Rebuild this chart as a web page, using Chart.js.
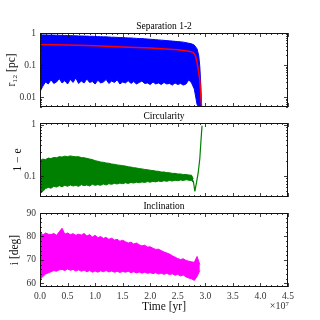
<!DOCTYPE html>
<html>
<head>
<meta charset="utf-8">
<script src="https://cdn.jsdelivr.net/npm/chart.js@4.4.1/dist/chart.umd.min.js"></script>
<style>
body { margin: 0; background: #fff; }
#wrap { position: relative; width: 320px; height: 320px; overflow: hidden; }
canvas { position: absolute; left: 0; }
</style>
</head>
<body>
<div id="wrap">
<canvas id="sep" width="320" height="120" style="top:0px"></canvas>
<canvas id="circ" width="320" height="110" style="top:100px"></canvas>
<canvas id="inc" width="320" height="130" style="top:190px"></canvas>
</div>
<script>
// time in units of 1e7 yr
const bandTime = [0,0.05,0.1,0.15,0.2,0.25,0.3,0.35,0.4,0.45,0.5,0.55,0.6,0.65,0.7,0.75,0.8,0.85,0.9,0.95,1.0,
  1.05,1.1,1.15,1.2,1.25,1.3,1.35,1.4,1.45,1.5,1.55,1.6,1.65,1.7,1.75,1.8,1.85,1.9,1.95,2.0,
  2.05,2.1,2.15,2.2,2.25,2.3,2.35,2.4,2.45,2.5,2.55,2.6,2.65,2.7,2.75];

// separation 1-2 (blue band + red mean)
const sepTime = bandTime.concat([2.8,2.85,2.88,2.9,2.92,2.93]);
const sepHigh = [0.88,0.87,0.87,0.86,0.86,0.86,0.85,0.85,0.84,0.84,0.83,0.83,0.82,0.82,0.81,0.81,0.8,0.8,0.79,0.79,0.78,
  0.77,0.77,0.76,0.76,0.75,0.74,0.74,0.73,0.72,0.72,0.71,0.7,0.7,0.69,0.68,0.67,0.67,0.66,0.65,0.64,
  0.63,0.62,0.61,0.6,0.59,0.58,0.57,0.56,0.55,0.54,0.53,0.52,0.5,0.48,0.46,
  0.42,0.32,0.2,0.09,0.02,0.005];
const sepLow = [0.015,0.022,0.03,0.026,0.035,0.027,0.03,0.038,0.028,0.033,0.026,0.036,0.029,0.04,0.027,0.032,0.028,0.037,0.029,0.031,0.026,
  0.034,0.028,0.03,0.036,0.027,0.032,0.029,0.035,0.026,0.03,0.028,0.033,0.027,0.031,0.026,0.029,0.032,0.027,0.028,0.025,
  0.03,0.026,0.028,0.025,0.029,0.026,0.027,0.024,0.028,0.025,0.027,0.024,0.026,0.035,0.028,
  0.018,0.006,0.005,0.005,0.005,0.005];
const sepMeanTime = [0,0.5,1.0,1.5,2.0,2.5,2.7,2.78,2.82,2.85,2.88,2.9,2.92,2.94];
const sepMean = [0.44,0.42,0.4,0.37,0.34,0.3,0.27,0.25,0.2,0.12,0.06,0.035,0.01,0.003];

// circularity 1-e (green)
const circTime = bandTime.concat([2.78]);
const circHigh = [0.2,0.215,0.21,0.225,0.22,0.232,0.228,0.24,0.235,0.245,0.24,0.248,0.242,0.238,0.24,0.23,0.228,0.222,0.215,0.21,0.2,
  0.195,0.188,0.186,0.18,0.178,0.172,0.17,0.165,0.163,0.16,0.157,0.152,0.15,0.146,0.144,0.14,0.138,0.135,0.133,0.13,
  0.128,0.125,0.124,0.12,0.12,0.117,0.116,0.113,0.113,0.11,0.11,0.107,0.107,0.105,0.104,
  0.088];
const circLow = [0.045,0.05,0.057,0.06,0.058,0.063,0.061,0.065,0.062,0.066,0.063,0.067,0.064,0.066,0.063,0.068,0.065,0.067,0.064,0.069,0.066,
  0.068,0.066,0.07,0.067,0.071,0.069,0.072,0.07,0.073,0.071,0.074,0.072,0.075,0.073,0.076,0.074,0.077,0.075,0.078,0.076,
  0.079,0.077,0.08,0.078,0.081,0.079,0.082,0.08,0.083,0.081,0.084,0.082,0.085,0.083,0.082,
  0.075];
const circTailTime = [2.78,2.8,2.81,2.84,2.87,2.9,2.92,2.94];
const circTail = [0.082,0.06,0.05,0.075,0.115,0.22,0.48,0.96];

// inclination (magenta)
const incTime = bandTime.concat([2.8,2.85,2.9]);
const incHigh = [82.5,80.5,81.5,81,80.8,81.3,80.5,82,83.5,81,81.5,80.8,81.2,80.5,81,80.6,81.3,80.2,80.8,79.8,80.5,
  79.5,80,79.2,79.6,78.8,79.3,78.5,78.8,78,78.4,77.8,77.2,77.6,76.8,77.2,76.5,76,76.3,75.5,75.6,
  75,74.5,74.6,74,73.4,73,72.5,71.8,71.2,70.6,70.2,70.5,69.8,69.5,69.2,
  69,71.5,68];
const incLow = [61.5,63,64,64.5,65,65.5,65.2,65.8,66,65.5,66.2,65.6,66,65.3,65.8,65.2,65.7,65,65.5,64.8,65.3,
  64.8,65.4,65,65.5,64.9,65.3,64.8,65.2,64.7,65.1,64.8,65.2,64.6,65,64.5,64.9,64.4,64.8,64.3,64.6,
  64.2,64.6,64,64.4,63.9,64.3,63.8,64.1,63.5,63.9,63.2,63.6,62.8,62.3,62,
  61.3,63,65.5];

const timeTicks = [0,0.5,1,1.5,2,2.5,3,3.5,4,4.5];
const sepTicks = [0.01,0.1,1];
const sepTickText = ['0.01','0.1','1'];
const circTicks = [0.1,1];
const circTickText = ['0.1','1'];
const incTicks = [60,70,80,90];

const SERIF = '"Liberation Serif", "DejaVu Serif", serif';

const pts = (xs, ys) => xs.map((x, i) => ({x: x, y: ys[i]}));

function band(time, hi, lo, color) {
  return [
    {data: pts(time, hi), borderColor: color, borderWidth: 1, pointRadius: 0, fill: false, order: 1},
    {data: pts(time, lo), borderColor: color, borderWidth: 1, pointRadius: 0, fill: '-1', backgroundColor: color, order: 1}
  ];
}

function logMinor(min, max) {
  const out = [];
  for (let e = -3; e <= 0; e++) {
    for (let m = 2; m <= 9; m++) {
      const v = m * Math.pow(10, e);
      if (v >= min && v <= max) out.push(v);
    }
  }
  return out;
}

const framePlugin = {
  id: 'frame',
  afterDatasetsDraw(chart, args, o) {
    const ctx = chart.ctx, a = chart.chartArea;
    const xs = chart.scales.x, ys = chart.scales.y;
    ctx.save();
    ctx.strokeStyle = '#111';
    ctx.lineWidth = 0.8;
    const line = (x1, y1, x2, y2) => { ctx.beginPath(); ctx.moveTo(x1, y1); ctx.lineTo(x2, y2); ctx.stroke(); };
    for (let i = 0; i <= 45; i++) {
      const px = Math.round(xs.getPixelForValue(i / 10)) + 0.5;
      const len = i % 5 ? 2 : 4;
      line(px, a.bottom, px, a.bottom - len);
      line(px, a.top, px, a.top + len);
    }
    const yTick = (v, len) => {
      const py = Math.round(ys.getPixelForValue(v)) + 0.5;
      line(a.left, py, a.left + len, py);
      line(a.right, py, a.right - len, py);
    };
    o.yMajor.forEach(v => yTick(v, 4));
    o.yMinor.forEach(v => yTick(v, 2));
    ctx.lineWidth = 1;
    ctx.strokeRect(a.left + 0.5, a.top + 0.5, a.right - a.left - 1, a.bottom - a.top - 1);
    ctx.fillStyle = '#000';
    ctx.font = '9.5px ' + SERIF;
    ctx.textAlign = 'center';
    ctx.textBaseline = 'alphabetic';
    ctx.fillText(o.title, (a.left + a.right) / 2, a.top - 4);
    if (o.offsetText) {
      ctx.font = '10px ' + SERIF;
      ctx.textAlign = 'right';
      ctx.fillStyle = '#333';
      ctx.fillText(o.offsetText, a.right + 1, a.bottom + 22);
    }
    ctx.restore();
  }
};

function makeChart(id, datasets, cfg) {
  const showX = !!cfg.showX;
  return new Chart(document.getElementById(id), {
    type: 'line',
    data: {datasets: datasets},
    plugins: [framePlugin],
    options: {
      animation: false,
      responsive: false,
      devicePixelRatio: 1,
      elements: {line: {tension: 0}},
      layout: {padding: {top: cfg.padTop, bottom: cfg.padBottom, left: 0, right: 32}},
      plugins: {
        legend: {display: false},
        tooltip: {enabled: false},
        frame: {title: cfg.title, yMajor: cfg.yTicks, yMinor: cfg.yMinor, offsetText: cfg.offsetText}
      },
      scales: {
        x: {
          type: 'linear', min: 0, max: 4.5, display: showX,
          afterBuildTicks: s => { s.ticks = timeTicks.map(v => ({value: v})); },
          ticks: {callback: v => v.toFixed(1), font: {family: SERIF, size: 9.5}, color: '#333', padding: 4, maxRotation: 0},
          grid: {display: false, drawTicks: false}, border: {display: false},
          title: {display: showX, text: 'Time [yr]', font: {family: SERIF, size: 11.5}, color: '#111', padding: {top: 0, bottom: 6}},
          afterFit: s => { s.height = showX ? 33 : 0; }
        },
        y: {
          type: cfg.yType, min: cfg.yMin, max: cfg.yMax,
          afterBuildTicks: s => { s.ticks = cfg.yTicks.map(v => ({value: v})); },
          ticks: {callback: (v, i) => cfg.yText[i], font: {family: SERIF, size: 9.5}, color: '#333', padding: 4},
          grid: {display: false, drawTicks: false}, border: {display: false},
          title: {display: true, text: cfg.yTitle, font: {family: SERIF, size: 11.5}, color: '#111', padding: {top: cfg.titlePad, bottom: 0}},
          afterFit: s => { s.width = 40; }
        }
      }
    }
  });
}

makeChart('sep',
  band(sepTime, sepHigh, sepLow, '#0000ff').concat([
    {data: pts(sepMeanTime, sepMean), borderColor: '#ff0000', borderWidth: 1.5, pointRadius: 0, fill: false, order: 0}
  ]),
  {padTop: 33, padBottom: 13, yType: 'logarithmic', yMin: 0.005, yMax: 1,
   yTicks: sepTicks, yText: sepTickText, yMinor: logMinor(0.005, 1),
   yTitle: 'r\u2081\u2082 [pc]', titlePad: 5, title: 'Separation 1-2'});

makeChart('circ',
  band(circTime, circHigh, circLow, '#008000').concat([
    {data: pts(circTailTime, circTail), borderColor: '#008000', borderWidth: 1.2, pointRadius: 0, fill: false, order: 0}
  ]),
  {padTop: 23, padBottom: 13, yType: 'logarithmic', yMin: 0.039, yMax: 1.09,
   yTicks: circTicks, yText: circTickText, yMinor: logMinor(0.039, 1.09),
   yTitle: '1 \u2212 e', titlePad: 11, title: 'Circularity'});

const incMinor = [];
for (let v = 60; v <= 90; v += 2) if (v % 10) incMinor.push(v);

makeChart('inc',
  band(incTime, incHigh, incLow, '#ff00ff'),
  {padTop: 23, padBottom: 0, showX: true, yType: 'linear', yMin: 58.5, yMax: 90,
   yTicks: incTicks, yText: incTicks.map(String), yMinor: incMinor,
   yTitle: 'i [deg]', titlePad: 8, title: 'Inclination', offsetText: '\u00d710\u2077'});
</script>
</body>
</html>
